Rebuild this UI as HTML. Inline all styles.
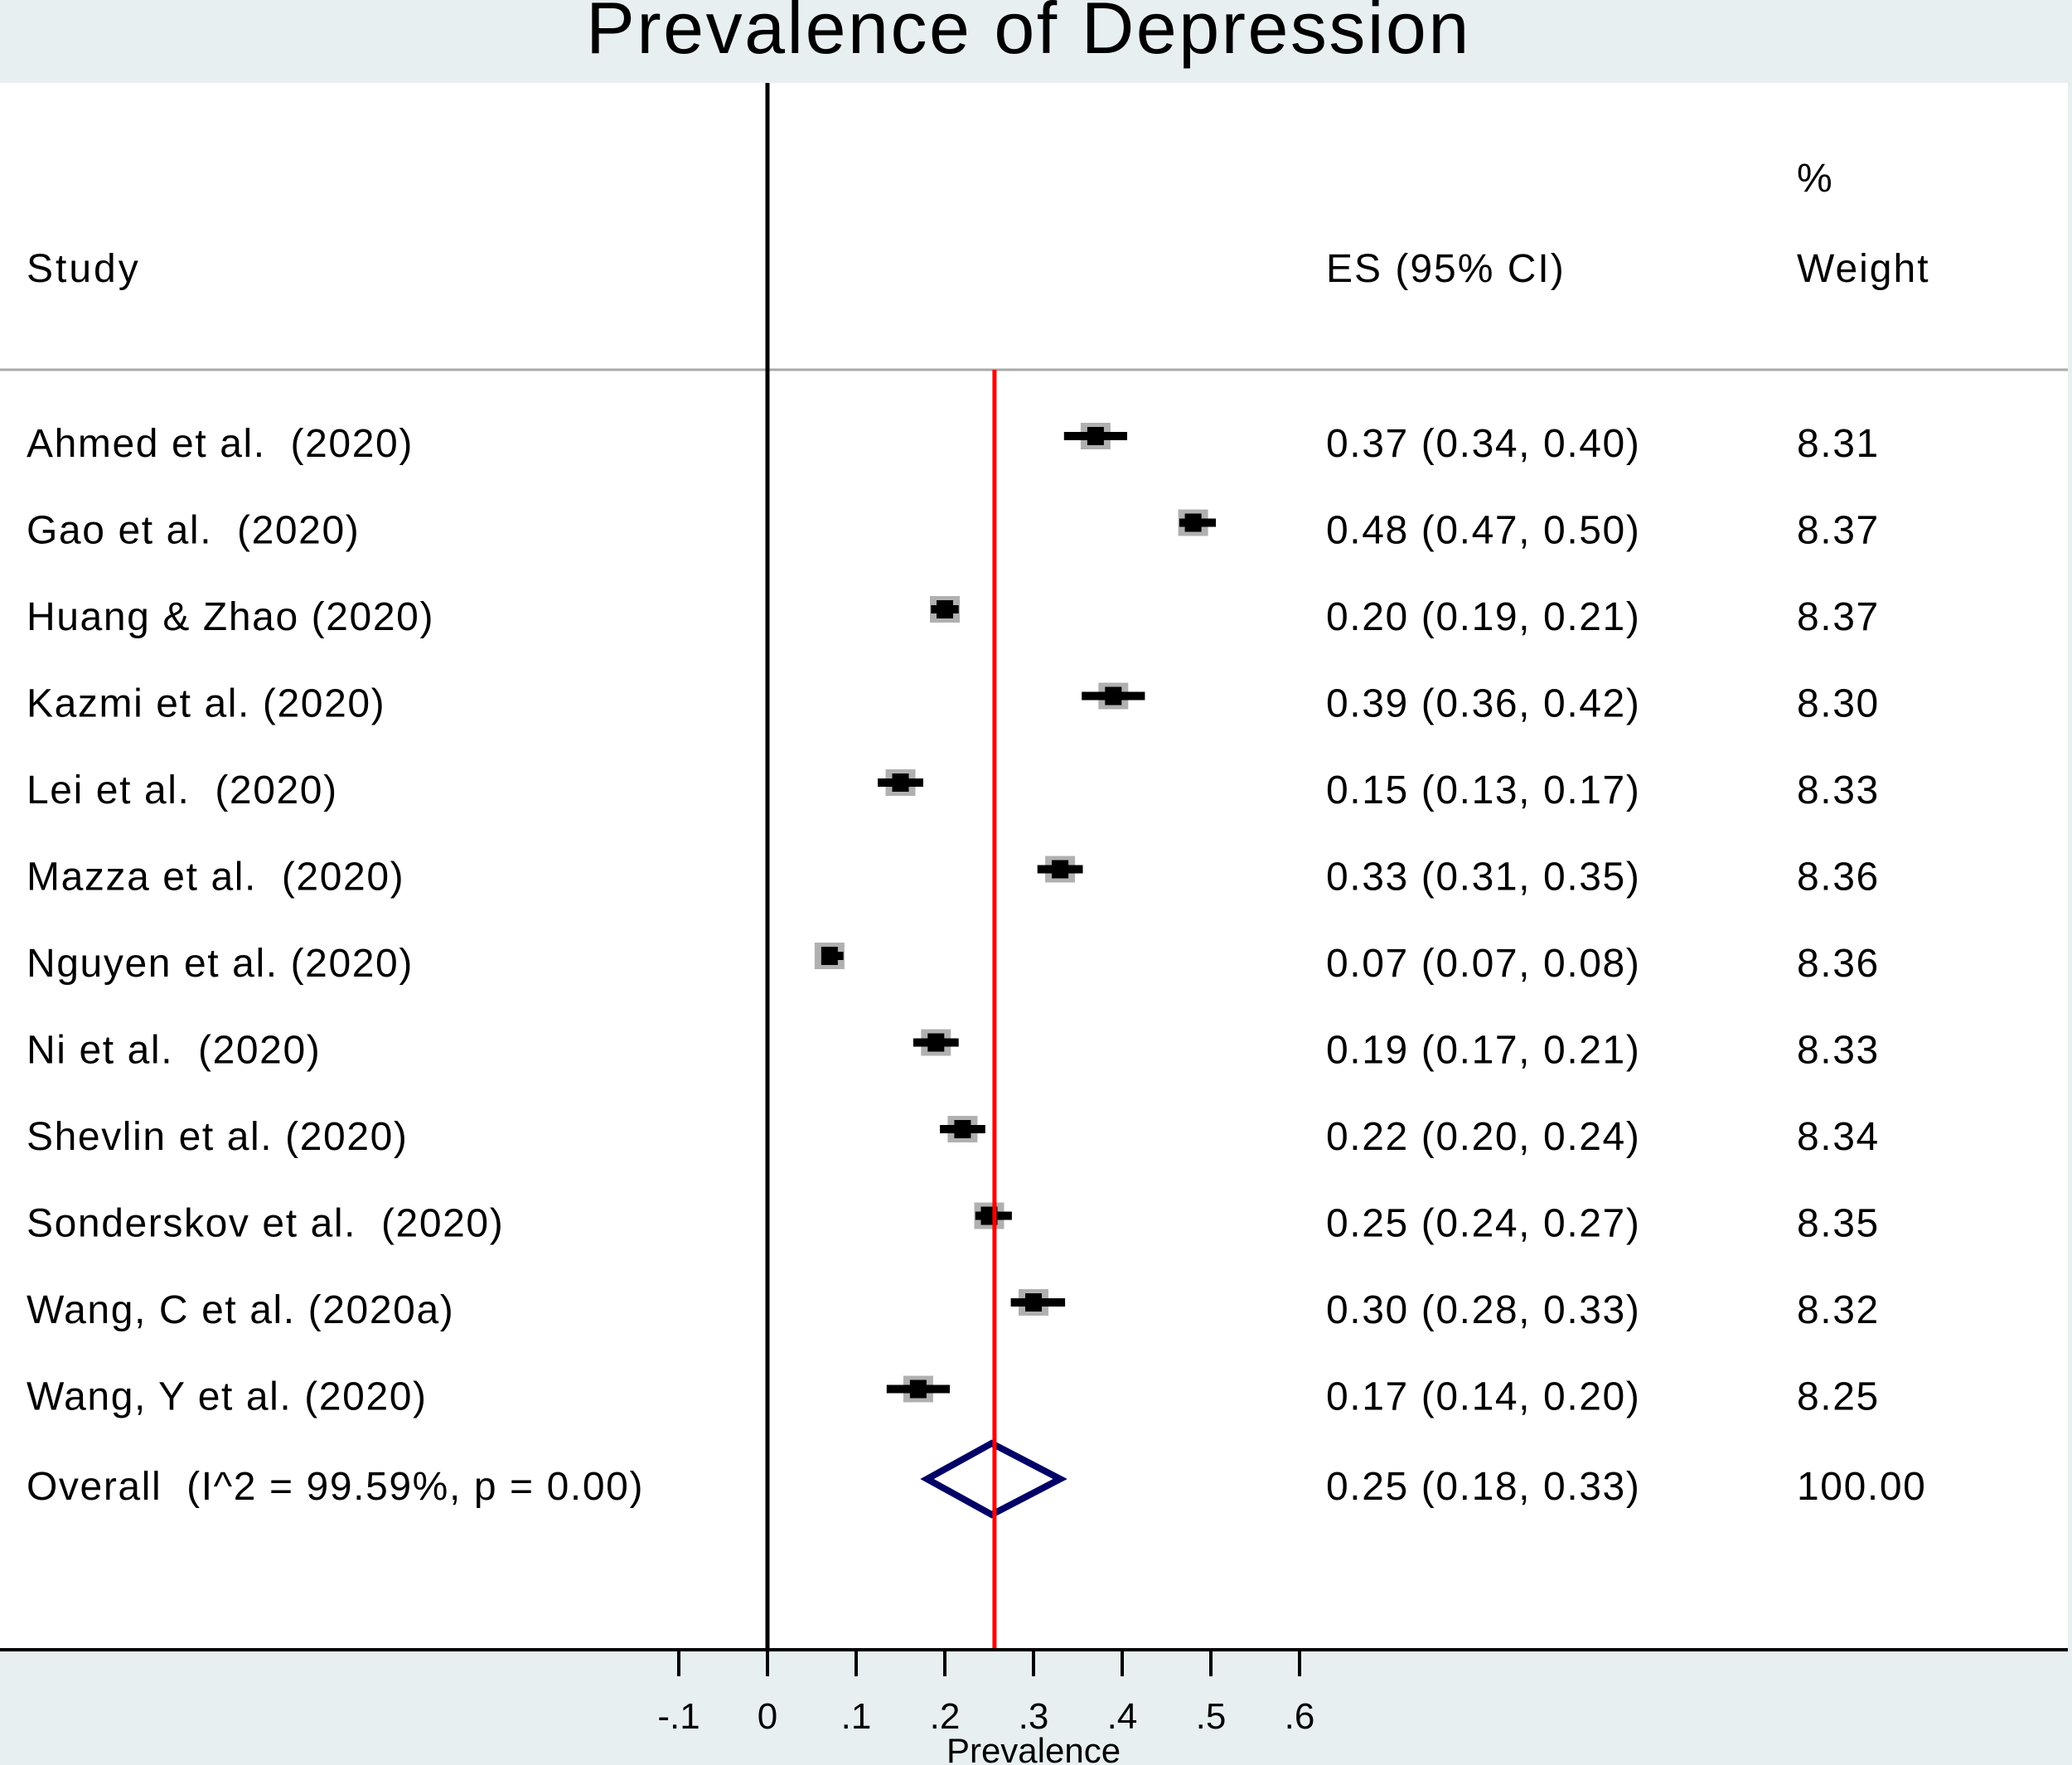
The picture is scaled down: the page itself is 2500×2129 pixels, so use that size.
<!DOCTYPE html>
<html><head><meta charset="utf-8">
<style>
html,body{margin:0;padding:0;background:#e8eff1;}
svg{display:block;font-family:"Liberation Sans",sans-serif;}
svg text{white-space:pre;}
</style></head>
<body>
<svg id="chart" width="2500" height="2129" viewBox="0 0 2500 2129" xmlns="http://www.w3.org/2000/svg">
<rect x="0" y="0" width="2500" height="2129" fill="#e8eff1"/>
<rect x="0" y="100" width="2495" height="1890" fill="#ffffff"/>
<text x="1241" y="64" font-size="88" letter-spacing="2.5" text-anchor="middle" fill="#000">Prevalence of Depression</text>
<text x="32" y="340" font-size="48" letter-spacing="3" fill="#000">Study</text>
<text x="1600" y="340" font-size="48" letter-spacing="2" fill="#000">ES (95% CI)</text>
<text x="2168" y="231" font-size="48" fill="#000">%</text>
<text x="2168" y="340" font-size="48" letter-spacing="2" fill="#000">Weight</text>
<line x1="0" y1="446" x2="2495" y2="446" stroke="#aaaaaa" stroke-width="3"/>
<g id="rows"></g>
<g id="axis"></g>
</svg>
<script>
const studies=["Ahmed et al.  (2020)","Gao et al.  (2020)","Huang & Zhao (2020)","Kazmi et al. (2020)","Lei et al.  (2020)","Mazza et al.  (2020)","Nguyen et al. (2020)","Ni et al.  (2020)","Shevlin et al. (2020)","Sonderskov et al.  (2020)","Wang, C et al. (2020a)","Wang, Y et al. (2020)"];
const es=[0.37,0.48,0.20,0.39,0.15,0.33,0.07,0.19,0.22,0.25,0.30,0.17];
const lo=[0.34,0.47,0.19,0.36,0.13,0.31,0.07,0.17,0.20,0.24,0.28,0.14];
const hi=[0.40,0.50,0.21,0.42,0.17,0.35,0.08,0.21,0.24,0.27,0.33,0.20];
const weights=["8.31","8.37","8.37","8.30","8.33","8.36","8.36","8.33","8.34","8.35","8.32","8.25"];
const overallES=0.25, overallLo=0.18, overallHi=0.33, overallLine=0.256;
const overallLabel="Overall  (I^2 = 99.59%, p = 0.00)";
const ticks=[-0.1,0,0.1,0.2,0.3,0.4,0.5,0.6];
const tickLabels=["-.1","0",".1",".2",".3",".4",".5",".6"];

const NS="http://www.w3.org/2000/svg";
const X=v=>926+v*1070;
const rowY=i=>526+i*104.5;
const overallY=1784;
const LS=1.6;
function mk(tag,attrs,parent,txt){const e=document.createElementNS(NS,tag);for(const k in attrs)e.setAttribute(k,attrs[k]);if(txt!==undefined)e.textContent=txt;parent.appendChild(e);return e;}
const rows=document.getElementById('rows');
const ax=document.getElementById('axis');
const fmt=v=>v.toFixed(2);

let z=mk('line',{x1:X(0),y1:100,x2:X(0),y2:1990,stroke:'#000','stroke-width':5},ax);


let r=mk('line',{x1:X(overallLine),y1:446,x2:X(overallLine),y2:1990,stroke:'#ff0000','stroke-width':5},ax);



studies.forEach((s,i)=>{
  const y=rowY(i);
  const g=mk('g',{},rows);
  
  
  let t=mk('text',{x:32,y:y+25,'font-size':48,'letter-spacing':LS,fill:'#000'},g,s);
  
  
  let box=mk('rect',{x:X(es[i])-18,y:y-16,width:36,height:32,fill:'#b0b0b0'},g);
  
  
  let ci=mk('line',{x1:X(lo[i])-6,y1:y,x2:X(hi[i])+6,y2:y,stroke:'#000','stroke-width':10},g);
  
  
  let pt=mk('rect',{x:X(es[i])-10,y:y-11,width:20,height:22,fill:'#000'},g);
  
  
  let e=mk('text',{x:1600,y:y+25,'font-size':48,'letter-spacing':LS,fill:'#000'},g,fmt(es[i])+" ("+fmt(lo[i])+", "+fmt(hi[i])+")");
  
  
  let w=mk('text',{x:2168,y:y+25,'font-size':48,'letter-spacing':LS,fill:'#000'},g,weights[i]);
  
  
});
let ot=mk('text',{x:32,y:overallY+25,'font-size':48,'letter-spacing':LS,fill:'#000'},rows,overallLabel);


let d=mk('polygon',{points:`${X(overallLo)},${overallY} ${X(overallES)+3},${overallY-43} ${X(overallHi)},${overallY} ${X(overallES)+3},${overallY+43}`,fill:'none',stroke:'#000066','stroke-width':8},rows);


let oe=mk('text',{x:1600,y:overallY+25,'font-size':48,'letter-spacing':LS,fill:'#000'},rows,fmt(overallES)+" ("+fmt(overallLo)+", "+fmt(overallHi)+")");


let ow=mk('text',{x:2168,y:overallY+25,'font-size':48,'letter-spacing':LS,fill:'#000'},rows,"100.00");



let al=mk('line',{x1:0,y1:1990,x2:2495,y2:1990,stroke:'#000','stroke-width':4},ax);


ticks.forEach((v,i)=>{
  let tk=mk('line',{x1:X(v),y1:1990,x2:X(v),y2:2022,stroke:'#000','stroke-width':4},ax);
  
  
  let tl=mk('text',{x:X(v),y:2085,'font-size':44,'text-anchor':'middle',fill:'#000'},ax,tickLabels[i]);
  
  
});
let xt=mk('text',{x:1247,y:2126,'font-size':42,'text-anchor':'middle',fill:'#000'},ax,"Prevalence");


</script>
</body></html>
